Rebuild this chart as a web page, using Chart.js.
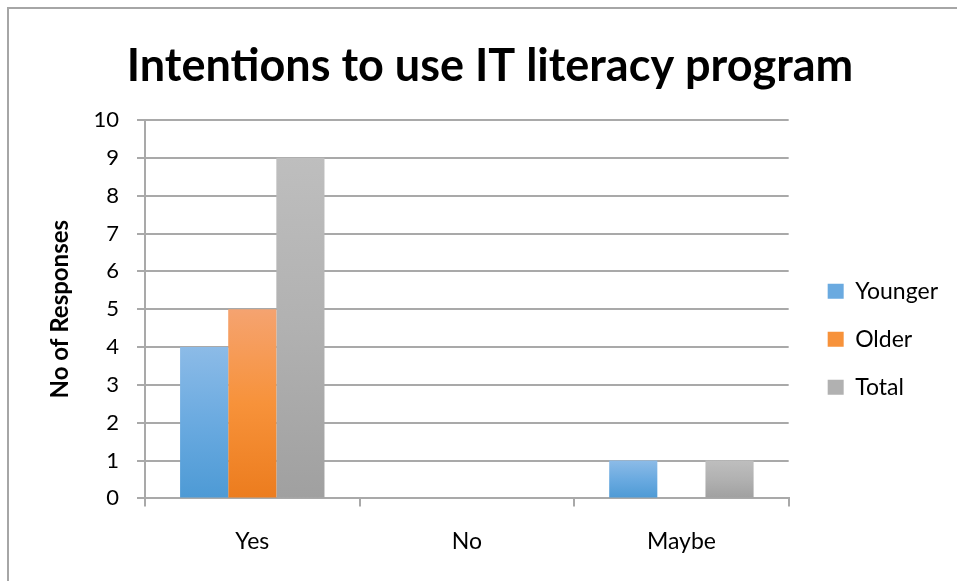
<!DOCTYPE html>
<html>
<head>
<meta charset="utf-8">
<script src="https://cdn.jsdelivr.net/npm/chart.js@4"></script>
<style>
  html, body { margin: 0; padding: 0; background: #ffffff; }
  #wrap { position: relative; width: 957px; height: 581px; overflow: hidden; }
  #frame { position: absolute; left: 7px; top: 7px; width: 960px; height: 580px;
           border-left: 2px solid #a6a6a6; border-top: 2px solid #a6a6a6; }
  #c { position: absolute; left: 0; top: 0; }
</style>
</head>
<body>
<div id="wrap">
  <div id="frame"></div>
  <canvas id="c" width="957" height="581"></canvas>
</div>
<script>
const categories = ['Yes', 'No', 'Maybe'];
const seriesNames = ['Younger', 'Older', 'Total'];
const younger = [4, 0, 1];
const older = [5, 0, 0];
const total = [9, 0, 1];
const yTicks = [0, 1, 2, 3, 4, 5, 6, 7, 8, 9, 10];

const gradStops = {
  Younger: ['#8cbbe7', '#6aaae0', '#4d9ad5'],
  Older: ['#f5a370', '#f7923a', '#ec7c1e'],
  Total: ['#bebebe', '#b1b1b1', '#a0a0a0']
};

function barFill(name) {
  return function(ctx) {
    const stops = gradStops[name];
    const chart = ctx.chart;
    if (!chart.chartArea || !ctx.parsed || ctx.type !== 'data') return stops[1];
    const ys = chart.scales.y;
    const top = ys.getPixelForValue(ctx.parsed.y);
    const base = ys.getPixelForValue(0);
    if (!isFinite(top) || Math.abs(base - top) < 1) return stops[1];
    const g = chart.ctx.createLinearGradient(0, top, 0, base);
    g.addColorStop(0, stops[0]);
    g.addColorStop(0.5, stops[1]);
    g.addColorStop(1, stops[2]);
    return g;
  };
}

const legendShift = {
  id: 'legendShift',
  afterLayout(chart) {
    const lg = chart.legend;
    if (!lg) return;
    lg.left += 14; lg.right += 14;
    lg.top += 30; lg.bottom += 30;
  }
};

const FONT = 'Lato';
Chart.defaults.font.family = FONT;
Chart.defaults.color = '#000000';

new Chart(document.getElementById('c'), {
  type: 'bar',
  data: {
    labels: categories,
    datasets: [
      { label: seriesNames[0], data: younger, backgroundColor: barFill('Younger') },
      { label: seriesNames[1], data: older, backgroundColor: barFill('Older') },
      { label: seriesNames[2], data: total, backgroundColor: barFill('Total') }
    ]
  },
  options: {
    responsive: false,
    animation: false,
    devicePixelRatio: 1,
    categoryPercentage: 0.673,
    barPercentage: 1.0,
    layout: { padding: { left: 46, right: 23, top: 0, bottom: 5 } },
    plugins: {
      title: {
        display: true,
        text: 'Intentions to use IT literacy program',
        font: { family: FONT, size: 45, weight: 'bold' },
        color: '#000000',
        padding: { top: 39, bottom: 27 }
      },
      legend: {
        display: true,
        position: 'right',
        fullSize: false,
        labels: {
          font: { family: FONT, size: 23 },
          color: '#000000',
          boxWidth: 16,
          boxHeight: 15,
          padding: 25,
          generateLabels(chart) {
            return chart.data.datasets.map((ds, i) => ({
              text: ds.label,
              fillStyle: gradStops[ds.label][1],
              strokeStyle: gradStops[ds.label][1],
              lineWidth: 0,
              hidden: false,
              datasetIndex: i
            }));
          }
        }
      },
      tooltip: { enabled: false }
    },
    scales: {
      x: {
        offset: true,
        grid: { display: true, drawOnChartArea: false, drawTicks: true, tickLength: 8, color: '#a9a9a9', lineWidth: 2 },
        border: { display: true, color: '#a9a9a9', width: 2 },
        ticks: { font: { family: FONT, size: 23 }, color: '#000000', padding: 21 }
      },
      y: {
        min: 0,
        max: 10,
        afterFit(scale) { scale.width = 99; },
        afterBuildTicks(scale) { scale.ticks = yTicks.map(v => ({ value: v })); },
        grid: { display: true, drawTicks: true, tickLength: 8, color: '#a9a9a9', lineWidth: 2 },
        border: { display: true, color: '#a9a9a9', width: 2 },
        ticks: { font: { family: FONT, size: 22 }, color: '#000000', padding: 18 },
        title: {
          display: true,
          text: 'No of Responses',
          font: { family: FONT, size: 24, weight: 'bold' },
          color: '#000000',
          padding: { top: 0, bottom: 0 }
        }
      }
    }
  },
  plugins: [legendShift]
});
</script>
</body>
</html>
